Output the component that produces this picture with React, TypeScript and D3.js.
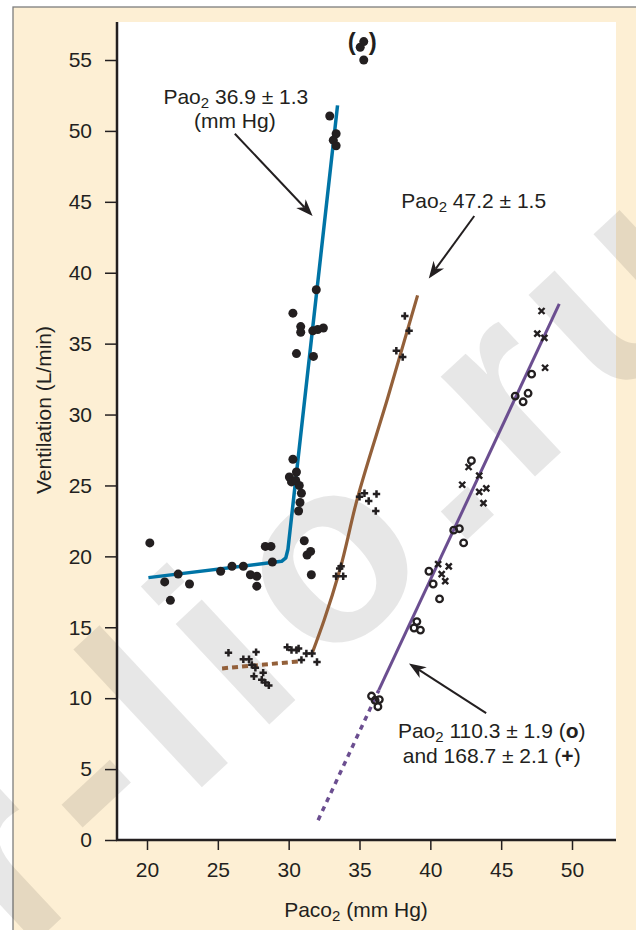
import React, { useEffect, useRef } from "react";
import * as d3 from "d3";

// Pao2 36.9 ± 1.3 — filled dots
const dotX = [20.2, 21.25, 22.2, 21.65, 23.0, 25.2, 26.0, 26.8, 27.3, 27.75, 27.75, 28.35, 28.75, 28.85,
  31.1, 31.3, 31.55, 31.6, 30.3, 30.55, 30.05, 30.2, 30.5, 30.75, 30.9, 30.8, 30.7,
  30.3, 30.85, 30.85, 30.55, 31.7, 32.05, 32.45, 31.75, 31.95, 32.9, 33.35, 33.15, 33.35,
  35.05, 35.3, 35.3];
const dotY = [20.95, 18.2, 18.75, 16.9, 18.05, 18.95, 19.3, 19.3, 18.7, 18.6, 17.9, 20.7, 20.7, 19.6,
  21.1, 20.1, 20.35, 18.7, 26.85, 25.95, 25.6, 25.25, 25.35, 25.0, 24.45, 23.8, 23.2,
  37.15, 36.2, 35.8, 34.3, 35.9, 36.0, 36.1, 34.1, 38.8, 51.05, 49.8, 49.35, 48.95,
  55.9, 56.3, 55.0];

// Pao2 47.2 ± 1.5 — plus signs
const plusX = [38.2, 38.5, 37.6, 38.05, 35.0, 35.35, 35.65, 36.2, 36.15, 33.6, 33.35, 33.85, 33.7,
  25.75, 27.7, 26.8, 27.2, 27.4, 27.65, 28.2, 27.55, 28.1, 28.35, 28.6,
  29.9, 30.2, 30.55, 30.7, 30.9, 31.25, 31.65, 32.0];
const plusY = [36.95, 35.9, 34.5, 34.05, 24.2, 24.45, 23.9, 24.4, 23.2, 19.15, 18.6, 18.6, 19.3,
  13.2, 13.25, 12.75, 12.75, 12.35, 12.15, 11.8, 11.55, 11.3, 11.1, 10.9,
  13.6, 13.4, 13.4, 13.5, 12.7, 13.15, 13.15, 12.55];

// Pao2 110.3 ± 1.9 — open circles
const ringX = [35.85, 36.1, 36.4, 36.3, 39.05, 38.85, 39.3, 39.9, 40.2, 40.65, 41.65, 42.05, 42.35,
  42.9, 45.99, 46.9, 46.55, 47.15];
const ringY = [10.15, 9.85, 9.9, 9.4, 15.4, 14.95, 14.8, 18.95, 18.05, 17.0, 21.85, 21.95, 20.95,
  26.75, 31.3, 31.5, 30.9, 32.85];

// Pao2 168.7 ± 2.1 — crosses
const crossX = [40.55, 41.3, 40.8, 41.05, 42.7, 43.45, 42.25, 43.45, 43.95, 43.75, 47.85, 47.55, 48.05, 48.1];
const crossY = [19.45, 19.3, 18.75, 18.25, 26.3, 25.7, 25.05, 24.55, 24.8, 23.75, 37.3, 35.7, 35.4, 33.3];

// fitted curves
const blueFitX = [20.1, 29.5, 29.8, 29.95, 33.45];
const blueFitY = [18.5, 19.65, 19.9, 20.5, 51.8];
const brownFitX = [31.65, 32.5, 33.6, 34.8, 37.0, 39.1];
const brownFitY = [13.15, 15.5, 19.0, 23.9, 31.2, 38.4];
const brownDashX = [25.3, 30.8];
const brownDashY = [12.1, 12.6];
const purpleFitX = [36.36, 49.1];
const purpleFitY = [10.56, 37.8];
const purpleDashX = [32.08, 36.36];
const purpleDashY = [1.4, 10.56];

const xTicks = [20, 25, 30, 35, 40, 45, 50];
const yTicks = [0, 5, 10, 15, 20, 25, 30, 35, 40, 45, 50, 55];

// arrows: [fromX, fromY, toX, toY] in data units
const arrows = [
  [26.2, 49.8, 31.69, 44.0],
  [43.1, 44.0, 39.89, 39.6],
  [43.94, 8.95, 38.49, 12.45],
];

const FONT = "'Liberation Sans', Arial, Helvetica, sans-serif";
const INK = "#231f20";
const FS = 21;

export default function App() {
  const ref = useRef<SVGSVGElement | null>(null);

  useEffect(() => {
    if (!ref.current) return;
    const svg = d3.select(ref.current);
    svg.selectAll("*").remove();

    const width = 636, height = 930;
    const plot = { left: 117, right: 616, top: 22, bottom: 840 };
    const x = d3.scaleLinear().domain([20, 50]).range([147, 572]);
    const y = d3.scaleLinear().domain([0, 55]).range([840, 60]);

    // page background + frame
    svg.append("rect").attr("width", width).attr("height", height).attr("fill", "#fff");
    svg.append("rect").attr("x", 13).attr("y", 7).attr("width", width).attr("height", height)
      .attr("fill", "#fdefd4").attr("stroke", "#7d7d7d").attr("stroke-width", 1.3);
    svg.append("rect").attr("x", plot.left).attr("y", plot.top)
      .attr("width", plot.right - plot.left).attr("height", plot.bottom - plot.top).attr("fill", "#fff");

    // watermark
    svg.append("text")
      .attr("transform", "translate(22,955) rotate(-43)")
      .attr("font-family", FONT).attr("font-weight", "bold").attr("font-size", 260)
      .attr("letter-spacing", 20)
      .attr("fill", "#000").attr("fill-opacity", 0.095)
      .text("r-lio.ru");

    // axes
    const gy = svg.append("g").attr("transform", `translate(${plot.left},0)`)
      .call(d3.axisLeft(y).tickValues(yTicks).tickSize(12).tickPadding(13));
    const gx = svg.append("g").attr("transform", `translate(0,${plot.bottom})`)
      .call(d3.axisBottom(x).tickValues(xTicks).tickSize(10).tickPadding(12));
    [gx, gy].forEach((g) => {
      g.select(".domain").remove();
      g.selectAll("line").attr("stroke", INK).attr("stroke-width", 1.5);
      g.selectAll("text").attr("font-family", FONT).attr("font-size", FS).attr("fill", INK);
    });
    svg.append("line").attr("x1", plot.left).attr("x2", plot.left).attr("y1", plot.top).attr("y2", plot.bottom + 1)
      .attr("stroke", INK).attr("stroke-width", 2.5);
    svg.append("line").attr("x1", plot.left - 1).attr("x2", plot.right).attr("y1", plot.bottom).attr("y2", plot.bottom)
      .attr("stroke", INK).attr("stroke-width", 2.5);

    // axis titles
    const xt = svg.append("text").attr("x", 356).attr("y", 917).attr("text-anchor", "middle")
      .attr("font-family", FONT).attr("font-size", FS).attr("fill", INK);
    xt.append("tspan").text("Paco");
    xt.append("tspan").attr("font-size", 15).attr("dy", 4).text("2");
    xt.append("tspan").attr("dy", -4).text(" (mm Hg)");
    svg.append("text").attr("transform", "translate(51,410) rotate(-90)").attr("text-anchor", "middle")
      .attr("font-family", FONT).attr("font-size", FS).attr("fill", INK).text("Ventilation (L/min)");

    // fitted lines
    const zip = (xs: number[], ys: number[]) => xs.map((v, i) => [v, ys[i]] as [number, number]);
    const line = d3.line<[number, number]>().x((d) => x(d[0])).y((d) => y(d[1]));
    const curved = d3.line<[number, number]>().x((d) => x(d[0])).y((d) => y(d[1])).curve(d3.curveMonotoneY);

    svg.append("path").attr("d", line(zip(brownDashX, brownDashY))).attr("fill", "none")
      .attr("stroke", "#93603a").attr("stroke-width", 4).attr("stroke-dasharray", "6,4");
    svg.append("path").attr("d", curved(zip(brownFitX, brownFitY))).attr("fill", "none")
      .attr("stroke", "#93603a").attr("stroke-width", 3.2);
    svg.append("path").attr("d", line(zip(purpleDashX, purpleDashY))).attr("fill", "none")
      .attr("stroke", "#6b4e90").attr("stroke-width", 3.5).attr("stroke-dasharray", "5,5");
    svg.append("path").attr("d", line(zip(purpleFitX, purpleFitY))).attr("fill", "none")
      .attr("stroke", "#6b4e90").attr("stroke-width", 3);
    svg.append("path").attr("d", line(zip(blueFitX, blueFitY))).attr("fill", "none")
      .attr("stroke", "#0074a6").attr("stroke-width", 3.5).attr("stroke-linejoin", "round");

    // markers
    svg.append("g").selectAll("circle").data(zip(dotX, dotY)).join("circle")
      .attr("cx", (d) => x(d[0])).attr("cy", (d) => y(d[1])).attr("r", 4.5).attr("fill", INK);
    svg.append("g").selectAll("circle").data(zip(ringX, ringY)).join("circle")
      .attr("cx", (d) => x(d[0])).attr("cy", (d) => y(d[1])).attr("r", 3.3)
      .attr("fill", "none").attr("stroke", INK).attr("stroke-width", 2.3);
    svg.append("g").selectAll("path").data(zip(plusX, plusY)).join("path")
      .attr("transform", (d) => `translate(${x(d[0])},${y(d[1])})`)
      .attr("d", "M-3.7,0H3.7M0,-3.7V3.7").attr("stroke", INK).attr("stroke-width", 2.5);
    svg.append("g").selectAll("path").data(zip(crossX, crossY)).join("path")
      .attr("transform", (d) => `translate(${x(d[0])},${y(d[1])})`)
      .attr("d", "M-3,-3L3,3M-3,3L3,-3").attr("stroke", INK).attr("stroke-width", 2.4);

    // parentheses around off-scale points
    svg.append("text").attr("x", x(35.3) - 12).attr("y", 50).attr("text-anchor", "middle")
      .attr("font-family", FONT).attr("font-weight", "bold").attr("font-size", 24).attr("fill", INK).text("(");
    svg.append("text").attr("x", x(35.3) + 9).attr("y", 50).attr("text-anchor", "middle")
      .attr("font-family", FONT).attr("font-weight", "bold").attr("font-size", 24).attr("fill", INK).text(")");

    // arrows
    arrows.forEach(([x0, y0, x1, y1]) => {
      const ax = x(x0), ay = y(y0), bx = x(x1), by = y(y1);
      const ang = Math.atan2(by - ay, bx - ax);
      const L = 17, Wd = 6.5, N = 12;
      const ux = Math.cos(ang), uy = Math.sin(ang);
      svg.append("line").attr("x1", ax).attr("y1", ay).attr("x2", bx - ux * N).attr("y2", by - uy * N)
        .attr("stroke", INK).attr("stroke-width", 2);
      const p = [
        [bx, by],
        [bx - ux * L - uy * Wd, by - uy * L + ux * Wd],
        [bx - ux * N, by - uy * N],
        [bx - ux * L + uy * Wd, by - uy * L - ux * Wd],
      ];
      svg.append("path").attr("d", "M" + p.map((q) => q.join(",")).join("L") + "Z").attr("fill", INK);
    });

    // annotations
    const note = (cx: number, cy: number, rest: string, tail?: string) => {
      const t = svg.append("text").attr("x", x(cx)).attr("y", y(cy)).attr("text-anchor", "middle")
        .attr("font-family", FONT).attr("font-size", FS).attr("fill", INK);
      t.append("tspan").text("Pao");
      t.append("tspan").attr("font-size", 15).attr("dy", 4).text("2");
      t.append("tspan").attr("dy", -4).text(" " + rest);
      if (tail) {
        t.append("tspan").text(" (");
        t.append("tspan").attr("font-weight", "bold").text(tail);
        t.append("tspan").text(")");
      }
      return t;
    };
    note(26.27, 51.9, "36.9 ± 1.3");
    svg.append("text").attr("x", x(26.2)).attr("y", y(50.2)).attr("text-anchor", "middle")
      .attr("font-family", FONT).attr("font-size", FS).attr("fill", INK).text("(mm Hg)");
    note(43.06, 44.57, "47.2 ± 1.5");
    note(44.33, 7.19, "110.3 ± 1.9", "o");
    const l2 = svg.append("text").attr("x", x(44.33)).attr("y", y(5.46)).attr("text-anchor", "middle")
      .attr("font-family", FONT).attr("font-size", FS).attr("fill", INK);
    l2.append("tspan").text("and 168.7 ± 2.1 (");
    l2.append("tspan").attr("font-weight", "bold").text("+");
    l2.append("tspan").text(")");
  }, []);

  return (
    <svg ref={ref} width={636} height={930}
      style={{ position: "absolute", left: 0, top: 0, display: "block" }} />
  );
}
